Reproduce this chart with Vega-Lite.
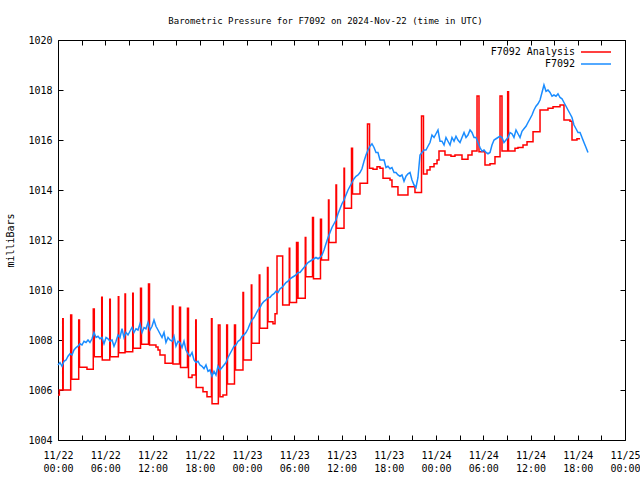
{
  "$schema": "https://vega.github.io/schema/vega-lite/v6.json",
  "width": 567,
  "height": 400,
  "autosize": {"type": "none"},
  "padding": {"left": 58, "top": 40, "right": 15, "bottom": 40},
  "title": {"text": "Barometric Pressure for F7092 on 2024-Nov-22 (time in UTC)", "font": "DejaVu Sans Mono", "fontSize": 9, "fontWeight": "normal", "anchor": "middle", "offset": 9, "dx": -16, "color": "black"},
  "config": {
    "view": {"stroke": "black", "strokeWidth": 1},
    "font": "DejaVu Sans Mono",
    "axis": {"domain": false, "grid": false, "tickColor": "black", "tickSize": -5, "labelColor": "black", "labelFont": "DejaVu Sans Mono", "labelFontSize": 10, "titleFont": "DejaVu Sans Mono", "titleFontSize": 10, "titleFontWeight": "normal", "titleColor": "black"}
  },
  "datasets": {
    "analysis": [
      {"hour": 0, "mb": 1005.8}, {"hour": 0.17, "mb": 1006.0}, {"hour": 0.6, "mb": 1008.85}, {"hour": 0.66, "mb": 1006.0},
      {"hour": 1.61, "mb": 1009.0}, {"hour": 1.74, "mb": 1006.43}, {"hour": 2.63, "mb": 1008.8}, {"hour": 2.73, "mb": 1006.91},
      {"hour": 3.68, "mb": 1006.83}, {"hour": 4.48, "mb": 1009.24}, {"hour": 4.61, "mb": 1007.33}, {"hour": 5.55, "mb": 1009.71},
      {"hour": 5.62, "mb": 1007.2}, {"hour": 6.57, "mb": 1009.63}, {"hour": 6.64, "mb": 1007.33}, {"hour": 7.66, "mb": 1009.73},
      {"hour": 7.72, "mb": 1007.49}, {"hour": 8.51, "mb": 1009.84}, {"hour": 8.57, "mb": 1007.53}, {"hour": 9.49, "mb": 1009.87},
      {"hour": 9.55, "mb": 1007.67}, {"hour": 10.48, "mb": 1010.07}, {"hour": 10.6, "mb": 1007.83}, {"hour": 11.49, "mb": 1010.24},
      {"hour": 11.62, "mb": 1007.8}, {"hour": 12.44, "mb": 1007.72}, {"hour": 12.7, "mb": 1007.6}, {"hour": 12.95, "mb": 1007.4},
      {"hour": 13.59, "mb": 1007.07}, {"hour": 14.54, "mb": 1009.36}, {"hour": 14.6, "mb": 1007.04}, {"hour": 15.43, "mb": 1009.31},
      {"hour": 15.56, "mb": 1006.9}, {"hour": 16.44, "mb": 1009.27}, {"hour": 16.57, "mb": 1006.5}, {"hour": 17.02, "mb": 1006.6},
      {"hour": 17.49, "mb": 1008.8}, {"hour": 17.55, "mb": 1006.1}, {"hour": 18.41, "mb": 1005.93}, {"hour": 18.92, "mb": 1005.73},
      {"hour": 19.49, "mb": 1008.85}, {"hour": 19.56, "mb": 1005.45}, {"hour": 20.36, "mb": 1008.6}, {"hour": 20.57, "mb": 1005.73},
      {"hour": 20.95, "mb": 1005.8}, {"hour": 21.42, "mb": 1008.6}, {"hour": 21.52, "mb": 1006.24}, {"hour": 22.41, "mb": 1008.6},
      {"hour": 22.54, "mb": 1006.8}, {"hour": 23.49, "mb": 1009.9}, {"hour": 23.56, "mb": 1007.2}, {"hour": 24.55, "mb": 1010.2},
      {"hour": 24.61, "mb": 1007.87}, {"hour": 25.56, "mb": 1010.6}, {"hour": 25.63, "mb": 1008.47}, {"hour": 26.6, "mb": 1010.9},
      {"hour": 26.67, "mb": 1008.73}, {"hour": 27.3, "mb": 1008.65}, {"hour": 27.56, "mb": 1009.05}, {"hour": 27.81, "mb": 1011.36},
      {"hour": 28.53, "mb": 1009.4}, {"hour": 29.37, "mb": 1011.67}, {"hour": 29.43, "mb": 1009.5}, {"hour": 30.29, "mb": 1011.9},
      {"hour": 30.48, "mb": 1009.67}, {"hour": 31.4, "mb": 1012.1}, {"hour": 31.47, "mb": 1010.53}, {"hour": 32.32, "mb": 1012.9},
      {"hour": 32.44, "mb": 1010.45}, {"hour": 33.33, "mb": 1012.83}, {"hour": 33.46, "mb": 1011.2}, {"hour": 34.35, "mb": 1013.6},
      {"hour": 34.41, "mb": 1011.9}, {"hour": 35.3, "mb": 1014.2}, {"hour": 35.37, "mb": 1012.47}, {"hour": 36.32, "mb": 1014.87},
      {"hour": 36.38, "mb": 1013.27}, {"hour": 37.27, "mb": 1015.67}, {"hour": 37.4, "mb": 1013.84}, {"hour": 38.35, "mb": 1014.27},
      {"hour": 39.3, "mb": 1016.64}, {"hour": 39.56, "mb": 1014.87}, {"hour": 40.0, "mb": 1014.83}, {"hour": 40.51, "mb": 1014.93},
      {"hour": 40.89, "mb": 1014.87}, {"hour": 41.27, "mb": 1014.47}, {"hour": 42.16, "mb": 1014.4}, {"hour": 42.41, "mb": 1014.13},
      {"hour": 43.17, "mb": 1013.8}, {"hour": 44.44, "mb": 1014.13}, {"hour": 45.33, "mb": 1013.9}, {"hour": 46.16, "mb": 1016.96},
      {"hour": 46.41, "mb": 1014.64}, {"hour": 46.86, "mb": 1014.8}, {"hour": 47.24, "mb": 1014.93}, {"hour": 47.75, "mb": 1015.05},
      {"hour": 48.13, "mb": 1015.2}, {"hour": 48.38, "mb": 1015.56}, {"hour": 49.14, "mb": 1015.4}, {"hour": 49.9, "mb": 1015.35},
      {"hour": 50.41, "mb": 1015.4}, {"hour": 51.3, "mb": 1015.23}, {"hour": 52.06, "mb": 1015.4}, {"hour": 52.57, "mb": 1015.56},
      {"hour": 53.21, "mb": 1017.76}, {"hour": 53.46, "mb": 1015.53}, {"hour": 54.22, "mb": 1015.0}, {"hour": 54.86, "mb": 1015.05},
      {"hour": 55.49, "mb": 1015.33}, {"hour": 56.13, "mb": 1017.76}, {"hour": 56.38, "mb": 1015.56}, {"hour": 57.1, "mb": 1017.93},
      {"hour": 57.21, "mb": 1015.56}, {"hour": 58.03, "mb": 1015.67}, {"hour": 58.41, "mb": 1015.7}, {"hour": 59.05, "mb": 1015.8},
      {"hour": 59.56, "mb": 1015.93}, {"hour": 60.32, "mb": 1016.33}, {"hour": 61.21, "mb": 1017.2}, {"hour": 62.22, "mb": 1017.27},
      {"hour": 62.86, "mb": 1017.33}, {"hour": 63.75, "mb": 1017.4}, {"hour": 64.25, "mb": 1016.8}, {"hour": 65.02, "mb": 1016.75},
      {"hour": 65.27, "mb": 1016.0}, {"hour": 65.9, "mb": 1016.05}, {"hour": 66.29, "mb": 1016.05}
    ],
    "station": [
      {"hour": 0, "mb": 1007.0}, {"hour": 0.25, "mb": 1007.1}, {"hour": 0.51, "mb": 1006.95}, {"hour": 0.76, "mb": 1007.15},
      {"hour": 1.02, "mb": 1007.2}, {"hour": 1.27, "mb": 1007.35}, {"hour": 1.52, "mb": 1007.45}, {"hour": 1.78, "mb": 1007.4},
      {"hour": 2.03, "mb": 1007.6}, {"hour": 2.29, "mb": 1007.7}, {"hour": 2.54, "mb": 1007.75}, {"hour": 2.79, "mb": 1007.85},
      {"hour": 3.05, "mb": 1007.8}, {"hour": 3.3, "mb": 1007.95}, {"hour": 3.56, "mb": 1007.9}, {"hour": 3.81, "mb": 1008.0},
      {"hour": 4.06, "mb": 1007.9}, {"hour": 4.32, "mb": 1008.05}, {"hour": 4.57, "mb": 1008.3}, {"hour": 4.83, "mb": 1008.1},
      {"hour": 5.08, "mb": 1008.15}, {"hour": 5.33, "mb": 1008.05}, {"hour": 5.59, "mb": 1008.1}, {"hour": 5.84, "mb": 1007.85},
      {"hour": 6.1, "mb": 1008.1}, {"hour": 6.35, "mb": 1008.05}, {"hour": 6.6, "mb": 1007.95}, {"hour": 6.86, "mb": 1008.0},
      {"hour": 7.11, "mb": 1007.75}, {"hour": 7.37, "mb": 1007.95}, {"hour": 7.62, "mb": 1008.2}, {"hour": 7.87, "mb": 1008.1},
      {"hour": 8.13, "mb": 1008.45}, {"hour": 8.38, "mb": 1008.1}, {"hour": 8.63, "mb": 1008.3}, {"hour": 8.89, "mb": 1008.2},
      {"hour": 9.14, "mb": 1008.35}, {"hour": 9.4, "mb": 1008.5}, {"hour": 9.65, "mb": 1008.3}, {"hour": 9.9, "mb": 1008.45},
      {"hour": 10.16, "mb": 1008.4}, {"hour": 10.41, "mb": 1008.65}, {"hour": 10.67, "mb": 1008.3}, {"hour": 10.92, "mb": 1008.5},
      {"hour": 11.17, "mb": 1008.45}, {"hour": 11.43, "mb": 1008.7}, {"hour": 11.68, "mb": 1008.4}, {"hour": 11.94, "mb": 1008.55},
      {"hour": 12.19, "mb": 1008.8}, {"hour": 12.44, "mb": 1008.55}, {"hour": 12.7, "mb": 1008.4}, {"hour": 12.95, "mb": 1008.25},
      {"hour": 13.21, "mb": 1008.1}, {"hour": 13.46, "mb": 1008.3}, {"hour": 13.71, "mb": 1007.9}, {"hour": 13.97, "mb": 1008.1},
      {"hour": 14.22, "mb": 1008.0}, {"hour": 14.48, "mb": 1007.95}, {"hour": 14.73, "mb": 1008.15}, {"hour": 14.98, "mb": 1007.75},
      {"hour": 15.24, "mb": 1007.95}, {"hour": 15.49, "mb": 1007.9}, {"hour": 15.75, "mb": 1007.7}, {"hour": 16.0, "mb": 1007.95},
      {"hour": 16.25, "mb": 1007.6}, {"hour": 16.51, "mb": 1007.45}, {"hour": 16.76, "mb": 1007.35}, {"hour": 17.02, "mb": 1007.5},
      {"hour": 17.27, "mb": 1007.2}, {"hour": 17.52, "mb": 1007.1}, {"hour": 17.78, "mb": 1007.15}, {"hour": 18.03, "mb": 1007.0},
      {"hour": 18.29, "mb": 1006.95}, {"hour": 18.54, "mb": 1006.85}, {"hour": 18.79, "mb": 1007.0}, {"hour": 19.05, "mb": 1006.75},
      {"hour": 19.3, "mb": 1006.8}, {"hour": 19.56, "mb": 1006.55}, {"hour": 19.81, "mb": 1006.75}, {"hour": 20.06, "mb": 1006.6},
      {"hour": 20.32, "mb": 1006.95}, {"hour": 20.57, "mb": 1006.8}, {"hour": 20.83, "mb": 1006.9}, {"hour": 21.08, "mb": 1007.0},
      {"hour": 21.33, "mb": 1007.1}, {"hour": 21.59, "mb": 1007.3}, {"hour": 21.84, "mb": 1007.45}, {"hour": 22.1, "mb": 1007.6},
      {"hour": 22.35, "mb": 1007.75}, {"hour": 22.6, "mb": 1007.8}, {"hour": 22.86, "mb": 1007.95}, {"hour": 23.11, "mb": 1008.0},
      {"hour": 23.37, "mb": 1008.15}, {"hour": 23.62, "mb": 1008.2}, {"hour": 23.87, "mb": 1008.3}, {"hour": 24.13, "mb": 1008.45},
      {"hour": 24.38, "mb": 1008.65}, {"hour": 24.63, "mb": 1008.8}, {"hour": 24.89, "mb": 1008.9}, {"hour": 25.14, "mb": 1009.05},
      {"hour": 25.4, "mb": 1009.2}, {"hour": 25.65, "mb": 1009.3}, {"hour": 25.9, "mb": 1009.45}, {"hour": 26.16, "mb": 1009.55},
      {"hour": 26.41, "mb": 1009.6}, {"hour": 26.67, "mb": 1009.7}, {"hour": 26.92, "mb": 1009.7}, {"hour": 27.17, "mb": 1009.8},
      {"hour": 27.43, "mb": 1009.85}, {"hour": 27.68, "mb": 1009.95}, {"hour": 27.94, "mb": 1009.9}, {"hour": 28.19, "mb": 1010.05},
      {"hour": 28.44, "mb": 1010.1}, {"hour": 28.7, "mb": 1010.2}, {"hour": 28.95, "mb": 1010.3}, {"hour": 29.21, "mb": 1010.35},
      {"hour": 29.46, "mb": 1010.45}, {"hour": 29.71, "mb": 1010.5}, {"hour": 29.97, "mb": 1010.55}, {"hour": 30.22, "mb": 1010.6},
      {"hour": 30.48, "mb": 1010.7}, {"hour": 30.73, "mb": 1010.7}, {"hour": 30.98, "mb": 1010.8}, {"hour": 31.24, "mb": 1010.9},
      {"hour": 31.49, "mb": 1011.0}, {"hour": 31.75, "mb": 1011.1}, {"hour": 32.0, "mb": 1011.15}, {"hour": 32.25, "mb": 1011.2},
      {"hour": 32.51, "mb": 1011.25}, {"hour": 32.76, "mb": 1011.3}, {"hour": 33.02, "mb": 1011.25}, {"hour": 33.27, "mb": 1011.3},
      {"hour": 33.52, "mb": 1011.4}, {"hour": 33.78, "mb": 1011.6}, {"hour": 34.03, "mb": 1011.85}, {"hour": 34.29, "mb": 1012.1},
      {"hour": 34.54, "mb": 1012.3}, {"hour": 34.79, "mb": 1012.5}, {"hour": 35.05, "mb": 1012.65}, {"hour": 35.3, "mb": 1012.8},
      {"hour": 35.56, "mb": 1013.05}, {"hour": 35.81, "mb": 1013.25}, {"hour": 36.06, "mb": 1013.45}, {"hour": 36.32, "mb": 1013.6},
      {"hour": 36.57, "mb": 1013.8}, {"hour": 36.83, "mb": 1014.0}, {"hour": 37.08, "mb": 1014.15}, {"hour": 37.33, "mb": 1014.3},
      {"hour": 37.59, "mb": 1014.45}, {"hour": 37.84, "mb": 1014.55}, {"hour": 38.1, "mb": 1014.6}, {"hour": 38.35, "mb": 1014.7},
      {"hour": 38.6, "mb": 1014.85}, {"hour": 38.86, "mb": 1015.15}, {"hour": 39.11, "mb": 1015.4}, {"hour": 39.37, "mb": 1015.6},
      {"hour": 39.62, "mb": 1015.75}, {"hour": 39.87, "mb": 1015.85}, {"hour": 40.13, "mb": 1015.7}, {"hour": 40.38, "mb": 1015.5},
      {"hour": 40.63, "mb": 1015.5}, {"hour": 40.89, "mb": 1015.2}, {"hour": 41.14, "mb": 1015.2}, {"hour": 41.4, "mb": 1015.2},
      {"hour": 41.65, "mb": 1014.9}, {"hour": 41.9, "mb": 1014.95}, {"hour": 42.16, "mb": 1014.85}, {"hour": 42.41, "mb": 1014.9},
      {"hour": 42.67, "mb": 1014.7}, {"hour": 42.92, "mb": 1014.7}, {"hour": 43.17, "mb": 1014.6}, {"hour": 43.43, "mb": 1014.55},
      {"hour": 43.68, "mb": 1014.6}, {"hour": 43.94, "mb": 1014.35}, {"hour": 44.19, "mb": 1014.55}, {"hour": 44.44, "mb": 1014.65},
      {"hour": 44.7, "mb": 1014.7}, {"hour": 44.95, "mb": 1014.4}, {"hour": 45.21, "mb": 1014.2}, {"hour": 45.46, "mb": 1014.1},
      {"hour": 45.71, "mb": 1014.5}, {"hour": 45.97, "mb": 1015.4}, {"hour": 46.22, "mb": 1015.5}, {"hour": 46.48, "mb": 1015.6},
      {"hour": 46.73, "mb": 1015.6}, {"hour": 46.98, "mb": 1015.75}, {"hour": 47.24, "mb": 1015.9}, {"hour": 47.49, "mb": 1016.2},
      {"hour": 47.75, "mb": 1016.1}, {"hour": 48.0, "mb": 1016.25}, {"hour": 48.25, "mb": 1016.4}, {"hour": 48.51, "mb": 1015.95},
      {"hour": 48.76, "mb": 1015.95}, {"hour": 49.02, "mb": 1015.8}, {"hour": 49.27, "mb": 1016.1}, {"hour": 49.52, "mb": 1015.95},
      {"hour": 49.78, "mb": 1015.8}, {"hour": 50.03, "mb": 1016.1}, {"hour": 50.29, "mb": 1015.95}, {"hour": 50.54, "mb": 1016.15},
      {"hour": 50.79, "mb": 1016.0}, {"hour": 51.05, "mb": 1015.9}, {"hour": 51.3, "mb": 1016.1}, {"hour": 51.56, "mb": 1016.3},
      {"hour": 51.81, "mb": 1016.1}, {"hour": 52.06, "mb": 1016.2}, {"hour": 52.32, "mb": 1016.4}, {"hour": 52.57, "mb": 1016.3},
      {"hour": 52.83, "mb": 1016.1}, {"hour": 53.08, "mb": 1016.1}, {"hour": 53.33, "mb": 1015.9}, {"hour": 53.59, "mb": 1015.7},
      {"hour": 53.84, "mb": 1015.55}, {"hour": 54.1, "mb": 1015.6}, {"hour": 54.35, "mb": 1015.5}, {"hour": 54.6, "mb": 1015.45},
      {"hour": 54.86, "mb": 1015.5}, {"hour": 55.11, "mb": 1015.8}, {"hour": 55.37, "mb": 1016.0}, {"hour": 55.62, "mb": 1016.05},
      {"hour": 55.87, "mb": 1016.1}, {"hour": 56.13, "mb": 1016.15}, {"hour": 56.38, "mb": 1016.1}, {"hour": 56.63, "mb": 1015.9},
      {"hour": 56.89, "mb": 1016.0}, {"hour": 57.14, "mb": 1016.1}, {"hour": 57.4, "mb": 1016.3}, {"hour": 57.65, "mb": 1016.25},
      {"hour": 57.9, "mb": 1016.1}, {"hour": 58.16, "mb": 1016.4}, {"hour": 58.41, "mb": 1016.25}, {"hour": 58.67, "mb": 1016.1},
      {"hour": 58.92, "mb": 1016.35}, {"hour": 59.17, "mb": 1016.45}, {"hour": 59.43, "mb": 1016.55}, {"hour": 59.68, "mb": 1016.7},
      {"hour": 59.94, "mb": 1016.85}, {"hour": 60.19, "mb": 1017.0}, {"hour": 60.44, "mb": 1017.2}, {"hour": 60.7, "mb": 1017.35},
      {"hour": 60.95, "mb": 1017.45}, {"hour": 61.21, "mb": 1017.6}, {"hour": 61.46, "mb": 1017.9}, {"hour": 61.71, "mb": 1018.2},
      {"hour": 61.97, "mb": 1017.95}, {"hour": 62.22, "mb": 1018.0}, {"hour": 62.48, "mb": 1017.9}, {"hour": 62.73, "mb": 1017.75},
      {"hour": 62.98, "mb": 1017.8}, {"hour": 63.24, "mb": 1017.75}, {"hour": 63.49, "mb": 1017.85}, {"hour": 63.75, "mb": 1017.7},
      {"hour": 64.0, "mb": 1017.65}, {"hour": 64.25, "mb": 1017.5}, {"hour": 64.51, "mb": 1017.35}, {"hour": 64.76, "mb": 1017.2},
      {"hour": 65.02, "mb": 1017.05}, {"hour": 65.27, "mb": 1016.9}, {"hour": 65.52, "mb": 1016.6}, {"hour": 65.78, "mb": 1016.45},
      {"hour": 66.03, "mb": 1016.3}, {"hour": 66.29, "mb": 1016.3}, {"hour": 66.54, "mb": 1016.1}, {"hour": 66.79, "mb": 1015.9},
      {"hour": 67.05, "mb": 1015.7}, {"hour": 67.3, "mb": 1015.5}
    ]
  },
  "layer": [
    {
      "data": {"name": "analysis"},
      "mark": {"type": "line", "interpolate": "step-after", "strokeWidth": 1.5},
      "encoding": {
        "x": {"field": "hour", "type": "quantitative", "scale": {"domain": [0, 72], "nice": false, "zero": false},
              "axis": {"orient": "bottom", "title": null, "values": [0,3,6,9,12,15,18,21,24,27,30,33,36,39,42,45,48,51,54,57,60,63,66,69,72],
                       "labelExpr": "datum.value % 6 == 0 ? ['11/' + (22 + floor(datum.value / 24)), (datum.value % 24 < 10 ? '0' : '') + (datum.value % 24) + ':00'] : ''",
                       "labelPadding": 15, "labelLineHeight": 13, "labelFlush": false, "labelOverlap": false}},
        "y": {"field": "mb", "type": "quantitative", "scale": {"domain": [1004, 1020], "nice": false, "zero": false},
              "axis": {"orient": "left", "title": "milliBars", "format": "d", "values": [1004,1006,1008,1010,1012,1014,1016,1018,1020], "labelPadding": 11, "titlePadding": 12}},
        "color": {"datum": "F7092 Analysis", "type": "nominal",
                  "scale": {"domain": ["F7092 Analysis", "F7092"], "range": ["#ff0000", "#1a8cff"]},
                  "legend": {"orient": "none", "legendX": 532, "legendY": 6, "title": null, "symbolType": "M-3,0L3,0", "symbolSize": 100, "symbolStrokeWidth": 1.5, "labelAlign": "right", "labelOffset": -27, "labelFontSize": 10, "labelFont": "DejaVu Sans Mono", "labelColor": "black", "rowPadding": 1, "padding": 0,
                             "encode": {"symbols": {"update": {"stroke": {"scale": "color", "field": "value"}, "fill": {"value": "transparent"}, "strokeWidth": {"value": 1.5}, "opacity": {"value": 1}}}}}}
      }
    },
    {
      "data": {"name": "station"},
      "mark": {"type": "line", "interpolate": "linear", "strokeWidth": 1.5},
      "encoding": {
        "x": {"field": "hour", "type": "quantitative", "scale": {"domain": [0, 72], "nice": false, "zero": false},
              "axis": {"orient": "top", "title": null, "labels": false, "values": [0,3,6,9,12,15,18,21,24,27,30,33,36,39,42,45,48,51,54,57,60,63,66,69,72]}},
        "y": {"field": "mb", "type": "quantitative", "scale": {"domain": [1004, 1020], "nice": false, "zero": false},
              "axis": {"orient": "right", "title": null, "labels": false, "values": [1004,1006,1008,1010,1012,1014,1016,1018,1020]}},
        "color": {"datum": "F7092", "type": "nominal"}
      }
    }
  ],
  "resolve": {"axis": {"x": "independent", "y": "independent"}}
}
